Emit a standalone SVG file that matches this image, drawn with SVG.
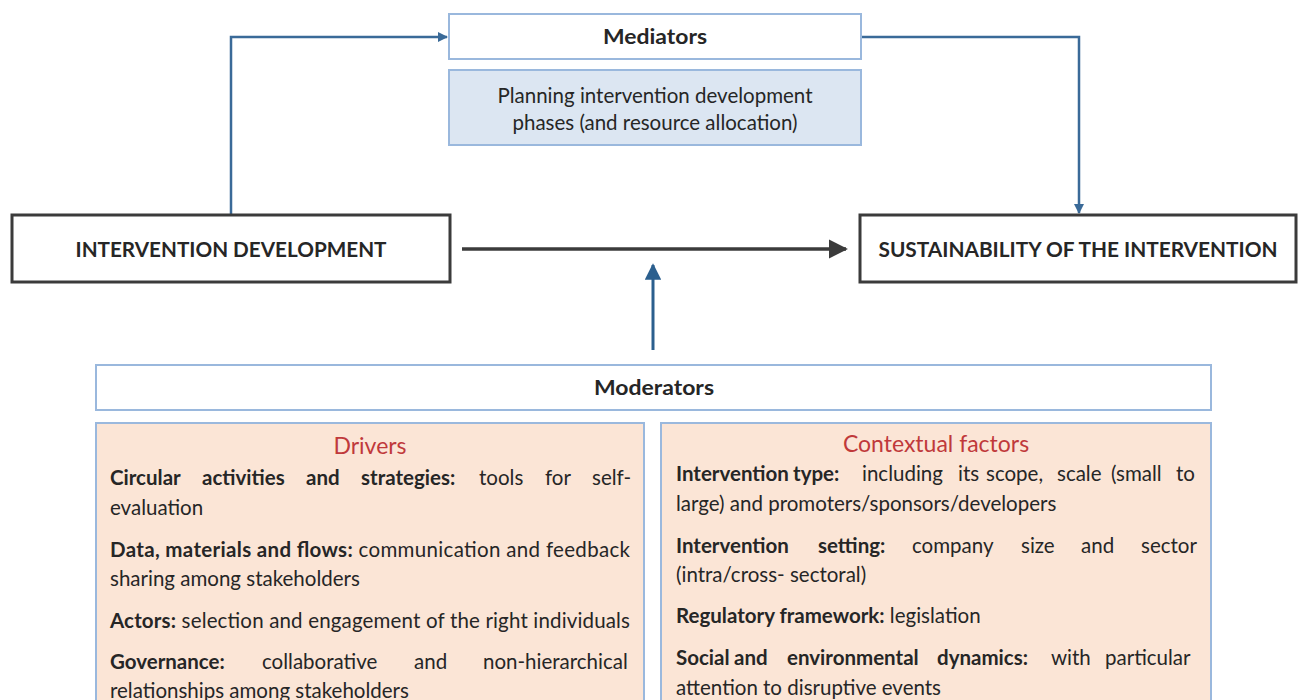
<svg xmlns="http://www.w3.org/2000/svg" width="1298" height="700" viewBox="0 0 1298 700">
  <style>
    text { font-family: Lato, "Open Sans", "Liberation Sans", sans-serif; fill: #262626; }
    .title { font-weight: 700; font-size: 21px; text-anchor: middle; }
    .body { font-size: 20.5px; }
    .b { font-weight: 700; }
    .head { font-size: 23px; fill: #c0393b; text-anchor: middle; }
    .mid { text-anchor: middle; font-size: 20.5px; }
    .main { fill: #ffffff; stroke: #3b3b3b; stroke-width: 3; }
    .blue { fill: #ffffff; stroke: #9ab8dd; stroke-width: 2; }
    .pale { fill: #dce6f2; stroke: #9ab8dd; stroke-width: 2; }
    .peach { fill: #fbe5d6; stroke: #9ab8dd; stroke-width: 2; }
    .link { fill: none; stroke: #3a6a98; stroke-width: 2.5; }
  </style>
  <defs>
    <marker id="headSmall" viewBox="0 0 10 10" refX="9" refY="5" markerWidth="4" markerHeight="4" orient="auto">
      <path d="M0,0 L10,5 L0,10 z" fill="#3a6a98"/>
    </marker>
    <marker id="headDark" viewBox="0 0 10 10" refX="9" refY="5" markerWidth="5.5" markerHeight="5.5" orient="auto">
      <path d="M0,0 L10,5 L0,10 z" fill="#3b3b3b"/>
    </marker>
    <marker id="headBlue" viewBox="0 0 10 10" refX="9" refY="5" markerWidth="5.5" markerHeight="5.5" orient="auto">
      <path d="M0,0 L10,5 L0,10 z" fill="#2b5f8e"/>
    </marker>
  </defs>

  <rect width="1298" height="700" fill="#ffffff"/>

  <!-- connectors -->
  <g id="connectors">
    <path class="link" d="M231,214 V37 H447" marker-end="url(#headSmall)"/>
    <path class="link" d="M861,37 H1079 V213" marker-end="url(#headSmall)"/>
    <line x1="462" y1="249" x2="846" y2="249" stroke="#3b3b3b" stroke-width="3.5" marker-end="url(#headDark)"/>
    <line x1="653" y1="350" x2="653" y2="265" stroke="#2b5f8e" stroke-width="3" marker-end="url(#headBlue)"/>
  </g>

  <g id="mediators">
    <rect class="blue" x="449" y="14" width="412" height="45"/>
    <text class="title" x="655" y="44" textLength="104" lengthAdjust="spacingAndGlyphs">Mediators</text>
  </g>

  <g id="planning">
    <rect class="pale" x="449" y="70" width="412" height="75"/>
    <text class="mid" x="655" y="103">Planning intervention development</text>
    <text class="mid" x="655" y="130">phases (and resource allocation)</text>
  </g>

  <g id="intervention-development">
    <rect class="main" x="12" y="215" width="438" height="67"/>
    <text class="title" x="231" y="257" textLength="311" lengthAdjust="spacingAndGlyphs">INTERVENTION DEVELOPMENT</text>
  </g>

  <g id="sustainability">
    <rect class="main" x="860" y="215" width="436" height="67"/>
    <text class="title" x="1078" y="257" textLength="399" lengthAdjust="spacingAndGlyphs">SUSTAINABILITY OF THE INTERVENTION</text>
  </g>

  <g id="moderators">
    <rect class="blue" x="96" y="365" width="1115" height="45"/>
    <text class="title" x="654" y="395" textLength="120" lengthAdjust="spacingAndGlyphs">Moderators</text>
  </g>

  <g id="drivers">
    <rect class="peach" x="96" y="423" width="548" height="290"/>
    <text class="head" x="370" y="454">Drivers</text>
    <text class="body" y="485"><tspan class="b" x="110">Circular</tspan><tspan class="b" x="202">activities</tspan><tspan class="b" x="306">and</tspan><tspan class="b" x="361">strategies:</tspan><tspan x="479">tools</tspan><tspan x="545">for</tspan><tspan x="592">self-</tspan></text>
    <text class="body" x="110" y="515">evaluation</text>
    <text class="body" x="110" y="557" textLength="520" lengthAdjust="spacing"><tspan class="b">Data, materials and flows:</tspan> communication and feedback</text>
    <text class="body" x="110" y="586">sharing among stakeholders</text>
    <text class="body" x="110" y="628" textLength="520" lengthAdjust="spacing"><tspan class="b">Actors:</tspan> selection and engagement of the right individuals</text>
    <text class="body" y="669"><tspan class="b" x="110">Governance:</tspan><tspan x="262">collaborative</tspan><tspan x="414">and</tspan><tspan x="483">non-hierarchical</tspan></text>
    <text class="body" x="110" y="698">relationships among stakeholders</text>
  </g>

  <g id="contextual-factors">
    <rect class="peach" x="661" y="423" width="550" height="290"/>
    <text class="head" x="936" y="452">Contextual factors</text>
    <text class="body" y="481"><tspan class="b" x="676">Intervention</tspan><tspan class="b" x="793">type:</tspan><tspan x="862">including</tspan><tspan x="958">its</tspan><tspan x="986">scope,</tspan><tspan x="1057">scale</tspan><tspan x="1111">(small</tspan><tspan x="1176">to</tspan></text>
    <text class="body" x="676" y="511">large) and promoters/sponsors/developers</text>
    <text class="body" y="553"><tspan class="b" x="676">Intervention</tspan><tspan class="b" x="818">setting:</tspan><tspan x="912">company</tspan><tspan x="1021">size</tspan><tspan x="1081">and</tspan><tspan x="1141">sector</tspan></text>
    <text class="body" x="676" y="582">(intra/cross- sectoral)</text>
    <text class="body" x="676" y="623"><tspan class="b">Regulatory framework:</tspan> legislation</text>
    <text class="body" y="665"><tspan class="b" x="676">Social</tspan><tspan class="b" x="734">and</tspan><tspan class="b" x="787">environmental</tspan><tspan class="b" x="937">dynamics:</tspan><tspan x="1051">with</tspan><tspan x="1105">particular</tspan></text>
    <text class="body" x="676" y="695">attention to disruptive events</text>
  </g>
</svg>
